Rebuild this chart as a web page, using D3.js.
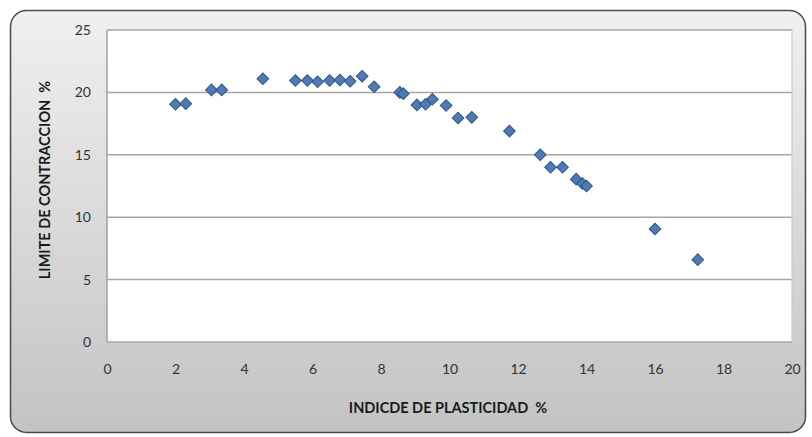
<!DOCTYPE html>
<html><head><meta charset="utf-8">
<script src="https://cdn.jsdelivr.net/npm/d3@7"></script>
<style>html,body{margin:0;padding:0;background:#fff;}svg{display:block;}text{white-space:pre;}</style>
</head><body>
<svg id="c" width="812" height="437"></svg>
<script>
const xValues = [2.0, 2.3, 3.05, 3.35, 4.55, 5.5, 5.85, 6.15, 6.5, 6.8, 7.1, 7.45, 7.8, 8.55, 8.65, 9.05, 9.3, 9.5, 9.9, 10.25, 10.65, 11.75, 12.65, 12.95, 13.3, 13.7, 13.88, 14.0, 16.0, 17.25];
const yValues = [19.05, 19.1, 20.2, 20.2, 21.1, 20.95, 20.95, 20.85, 20.95, 21.0, 20.9, 21.3, 20.45, 20.0, 19.9, 19.0, 19.05, 19.45, 18.95, 17.95, 18.0, 16.9, 15.0, 14.0, 14.0, 13.05, 12.7, 12.5, 9.05, 6.6];
const xTicks = [0, 2, 4, 6, 8, 10, 12, 14, 16, 18, 20];
const yTicks = [0, 5, 10, 15, 20, 25];
const xTitle = "INDICDE DE PLASTICIDAD  %";
const yTitle = "LIMITE DE CONTRACCION  %";

const svg = d3.select("#c");
const defs = svg.append("defs");
const g = defs.append("linearGradient").attr("id","bg").attr("x1",0).attr("y1",0).attr("x2",0).attr("y2",1);
g.append("stop").attr("offset","0%").attr("stop-color","#f0f0f0");
g.append("stop").attr("offset","100%").attr("stop-color","#c3c3c3");

svg.append("rect").attr("x",10.5).attr("y",10.5).attr("width",795).attr("height",422)
  .attr("rx",16).attr("fill","url(#bg)").attr("stroke","#4a4a4a").attr("stroke-width",1.5);

const L=107, R=792, T=30, B=342;
const x = d3.scaleLinear().domain([0,20]).range([L,R]);
const y = d3.scaleLinear().domain([0,25]).range([B,T]);

svg.append("rect").attr("x",L).attr("y",T).attr("width",R-L).attr("height",B-T).attr("fill","#fff");

svg.append("g").selectAll("line").data(yTicks).join("line")
  .attr("x1",L).attr("x2",R).attr("y1",d=>y(d)).attr("y2",d=>y(d))
  .attr("stroke","#a6a6a6").attr("stroke-width",1.5);
svg.append("line").attr("x1",R).attr("x2",R).attr("y1",T).attr("y2",B).attr("stroke","#c8c8c8").attr("stroke-width",1.2);
svg.append("line").attr("x1",L).attr("x2",L).attr("y1",T).attr("y2",B).attr("stroke","#a0a0a0").attr("stroke-width",1.5);

const font = "Lato, 'Open Sans', sans-serif";
const yAxis = svg.append("g").attr("transform",`translate(${L},0)`)
  .call(d3.axisLeft(y).tickValues(yTicks).tickSize(0).tickPadding(16));
yAxis.select(".domain").remove();
yAxis.selectAll("text").attr("font-family",font).attr("font-size",14).attr("fill","#333");

const xAxis = svg.append("g").attr("transform",`translate(0,${B})`)
  .call(d3.axisBottom(x).tickValues(xTicks).tickSize(0).tickPadding(22));
xAxis.select(".domain").remove();
xAxis.selectAll("text").attr("font-family",font).attr("font-size",14).attr("fill","#333");

svg.append("text").attr("x",448).attr("y",413).attr("text-anchor","middle")
  .attr("font-family",font).attr("font-weight","bold").attr("font-size",14.5).attr("fill","#1a1a1a").text(xTitle);
svg.append("text").attr("transform","translate(50,180) rotate(-90)").attr("text-anchor","middle")
  .attr("font-family",font).attr("font-weight","bold").attr("font-size",14.5).attr("fill","#1a1a1a").text(yTitle);

const pts = xValues.map((v,i)=>({x:v,y:yValues[i]}));
const sym = d3.symbol().type(d3.symbolSquare).size(68);
svg.append("g").selectAll("path").data(pts).join("path")
  .attr("d",sym).attr("transform",d=>`translate(${x(d.x)},${y(d.y)}) rotate(45)`)
  .attr("fill","#4f7ab5").attr("stroke","#2f5586").attr("stroke-width",1);
</script>
</body></html>
